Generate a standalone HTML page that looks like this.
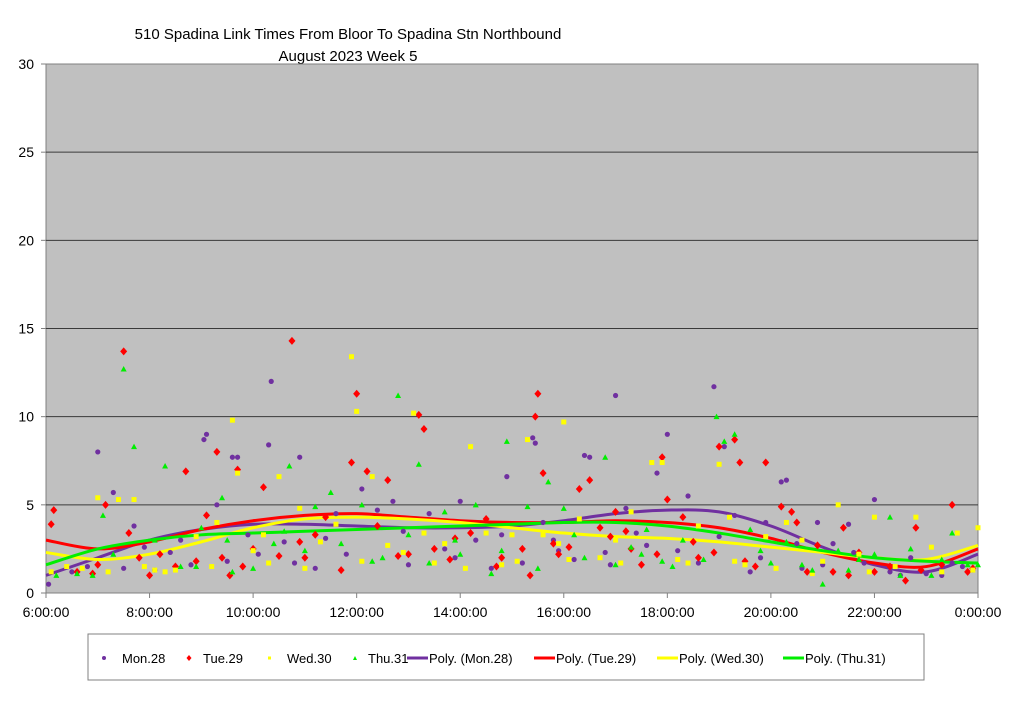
<!DOCTYPE html>
<html><head><meta charset="utf-8">
<style>
body{margin:0;background:#fff;width:1024px;height:701px;overflow:hidden;font-family:"Liberation Sans",sans-serif;}
svg text{font-family:"Liberation Sans",sans-serif;}
</style></head>
<body>
<svg id="chart" width="1024" height="701">
  <text x="348" y="39" text-anchor="middle" font-size="15">510 Spadina Link Times From Bloor To Spadina Stn Northbound</text>
  <text x="348" y="61" text-anchor="middle" font-size="15">August 2023  Week 5</text>
  <rect x="46" y="64" width="932" height="529" fill="#c0c0c0" stroke="#808080"/>
  <g id="grid"></g><g id="axes"></g><g id="trends"></g><g id="pts"></g>
  <g>
    <rect x="88" y="634" width="836" height="46" fill="#fff" stroke="#808080"/>
    <g font-size="13">
      <circle cx="104" cy="658" r="2" fill="#7030a0"/>
      <text x="122" y="663">Mon.28</text>
      <path d="M189 655 L191.5 658 L189 661 L186.5 658Z" fill="#ff0000"/>
      <text x="203" y="663">Tue.29</text>
      <rect x="268" y="656.5" width="3" height="3" fill="#ffff00"/>
      <text x="287" y="663">Wed.30</text>
      <path d="M355 656 L357 660 L353 660Z" fill="#00ee00"/>
      <text x="368" y="663">Thu.31</text>
      <line x1="407" y1="658" x2="428" y2="658" stroke="#7030a0" stroke-width="3"/>
      <text x="429" y="663">Poly. (Mon.28)</text>
      <line x1="534" y1="658" x2="555" y2="658" stroke="#ff0000" stroke-width="3"/>
      <text x="556" y="663">Poly. (Tue.29)</text>
      <line x1="657" y1="658" x2="678" y2="658" stroke="#ffff00" stroke-width="3"/>
      <text x="679" y="663">Poly. (Wed.30)</text>
      <line x1="783" y1="658" x2="804" y2="658" stroke="#00ee00" stroke-width="3"/>
      <text x="805" y="663">Poly. (Thu.31)</text>
    </g>
  </g>
</svg>
<script>
const yTicks=[0,5,10,15,20,25,30];
const xTickLabels=["6:00:00","8:00:00","10:00:00","12:00:00","14:00:00","16:00:00","18:00:00","20:00:00","22:00:00","0:00:00"];
const xTickHours=[6,8,10,12,14,16,18,20,22,24];
const trendHours=[6,7,8,9,10,11,12,13,14,15,16,17,18,19,20,21,22,23,24];
const trendMon=[1.0,2.0,3.0,3.6,3.9,3.9,3.8,3.7,3.7,3.8,4.1,4.5,4.7,4.6,3.8,2.6,1.6,1.2,2.2];
const trendTue=[3.0,2.5,2.9,3.6,4.1,4.4,4.5,4.3,4.1,4.0,4.0,4.1,4.0,3.7,3.1,2.3,1.7,1.5,2.5];
const trendWed=[2.3,1.9,2.2,2.9,3.7,4.2,4.3,4.2,4.0,3.7,3.4,3.2,3.1,2.9,2.6,2.3,2.0,1.9,2.7];
const trendThu=[1.6,2.5,3.0,3.3,3.4,3.5,3.6,3.7,3.8,3.9,4.0,4.0,3.8,3.4,2.9,2.4,2.0,1.8,1.7];
const ptsMon=[[6.05,0.5],[6.5,1.2],[7.0,8.0],[7.3,5.7],[7.5,1.4],[7.7,3.8],[8.1,1.3],[8.4,2.3],[8.8,1.6],[9.05,8.7],[9.1,9.0],[9.3,5.0],[9.5,1.8],[9.6,7.7],[9.7,7.7],[10.1,2.2],[10.3,8.4],[10.35,12.0],[10.6,2.9],[10.9,7.7],[11.2,1.4],[11.6,4.5],[11.8,2.2],[12.1,5.9],[12.4,4.7],[12.7,5.2],[13.0,1.6],[13.4,4.5],[13.7,2.5],[14.0,5.2],[14.3,3.0],[14.6,1.4],[14.9,6.6],[15.2,1.7],[15.4,8.8],[15.45,8.5],[15.6,4.0],[15.9,2.4],[16.2,1.9],[16.4,7.8],[16.5,7.7],[16.8,2.3],[17.0,11.2],[17.2,4.8],[17.6,2.7],[17.8,6.8],[18.0,9.0],[18.4,5.5],[18.6,1.7],[18.9,11.7],[19.1,8.3],[19.3,4.4],[19.6,1.2],[19.9,4.0],[20.2,6.3],[20.3,6.4],[20.6,1.4],[20.9,4.0],[21.2,2.8],[21.5,3.9],[21.8,1.7],[22.0,5.3],[22.3,1.2],[22.7,2.0],[23.0,1.1],[23.3,1.0],[23.7,1.5],[23.9,1.3],
[6.8,1.5],[7.9,2.6],[8.6,3.0],[9.9,3.3],[10.8,1.7],[11.4,3.1],[12.9,3.5],[13.9,2.0],[14.8,3.3],[15.8,3.0],[16.9,1.6],[17.4,3.4],[18.2,2.4],[19.0,3.2],[19.8,2.0],[20.5,2.8],[21.0,1.6],[21.6,2.3],[22.5,1.0],[23.5,1.7]];
const ptsTue=[[6.1,3.9],[6.15,4.7],[6.6,1.2],[7.0,1.6],[7.15,5.0],[7.5,13.7],[7.6,3.4],[8.0,1.0],[8.2,2.2],[8.5,1.5],[8.7,6.9],[9.1,4.4],[9.3,8.0],[9.4,2.0],[9.55,1.0],[9.7,7.0],[9.8,1.5],[10.2,6.0],[10.5,2.1],[10.75,14.3],[11.0,2.0],[11.4,4.3],[11.7,1.3],[11.9,7.4],[12.0,11.3],[12.2,6.9],[12.4,3.8],[12.6,6.4],[13.0,2.2],[13.2,10.1],[13.3,9.3],[13.5,2.5],[13.8,1.9],[14.2,3.4],[14.5,4.2],[14.8,2.0],[15.2,2.5],[15.35,1.0],[15.45,10.0],[15.5,11.3],[15.6,6.8],[15.8,2.8],[16.1,2.6],[16.3,5.9],[16.5,6.4],[16.7,3.7],[17.0,4.6],[17.2,3.5],[17.5,1.6],[17.8,2.2],[17.9,7.7],[18.0,5.3],[18.3,4.3],[18.6,2.0],[18.9,2.3],[19.0,8.3],[19.3,8.7],[19.4,7.4],[19.7,1.5],[19.9,7.4],[20.2,4.9],[20.4,4.6],[20.5,4.0],[20.9,2.7],[21.2,1.2],[21.4,3.7],[21.7,2.3],[22.0,1.2],[22.3,1.5],[22.6,0.7],[22.8,3.7],[23.5,5.0],[23.8,1.2],[23.9,1.4],
[6.9,1.1],[7.8,2.0],[8.9,1.8],[10.0,2.5],[10.9,2.9],[11.2,3.3],[12.8,2.1],[13.9,3.1],[14.7,1.5],[15.9,2.2],[16.9,3.2],[17.3,2.5],[18.5,2.9],[19.5,1.8],[20.7,1.2],[21.5,1.0],[22.9,1.3],[23.3,1.6]];
const ptsWed=[[6.1,1.2],[6.4,1.5],[7.0,5.4],[7.2,1.2],[7.4,5.3],[7.7,5.3],[8.1,1.3],[8.5,1.3],[8.9,3.2],[9.3,4.0],[9.6,9.8],[9.7,6.8],[10.0,2.4],[10.2,3.3],[10.5,6.6],[10.9,4.8],[11.3,2.9],[11.6,3.9],[11.9,13.4],[12.0,10.3],[12.3,6.6],[12.6,2.7],[12.9,2.3],[13.1,10.2],[13.3,3.4],[13.7,2.8],[14.2,8.3],[14.5,3.4],[14.8,1.6],[15.0,3.3],[15.3,8.7],[15.6,3.3],[15.9,2.8],[16.0,9.7],[16.3,4.2],[16.7,2.0],[17.0,3.0],[17.3,4.6],[17.7,7.4],[17.9,7.4],[18.2,1.9],[18.6,3.8],[19.0,7.3],[19.2,4.3],[19.5,1.6],[19.9,3.2],[20.3,4.0],[20.6,3.0],[21.0,1.8],[21.3,5.0],[21.7,2.2],[22.0,4.3],[22.4,1.5],[22.8,4.3],[23.1,2.6],[23.6,3.4],[24.0,3.7],[23.9,1.3],
[6.7,1.4],[7.9,1.5],[8.3,1.2],[9.2,1.5],[10.3,1.7],[11.0,1.4],[12.1,1.8],[13.5,1.7],[14.1,1.4],[15.1,1.8],[16.1,1.9],[17.1,1.7],[18.4,1.7],[19.3,1.8],[20.1,1.4],[20.8,1.1],[21.9,1.2],[23.3,1.2]];
const ptsThu=[[6.2,1.0],[6.6,1.1],[7.1,4.4],[7.5,12.7],[7.7,8.3],[8.3,7.2],[8.6,1.5],[9.0,3.7],[9.4,5.4],[9.6,1.2],[10.0,1.4],[10.4,2.8],[10.7,7.2],[11.2,4.9],[11.5,5.7],[11.7,2.8],[12.1,5.0],[12.5,2.0],[12.8,11.2],[13.2,7.3],[13.4,1.7],[13.7,4.6],[14.0,2.2],[14.3,5.0],[14.6,1.1],[14.9,8.6],[15.3,4.9],[15.7,6.3],[16.0,4.8],[16.4,2.0],[16.8,7.7],[17.0,1.6],[17.3,2.6],[17.6,3.6],[17.9,1.8],[18.3,3.0],[18.7,1.9],[18.95,10.0],[19.1,8.6],[19.3,9.0],[19.6,3.6],[20.0,1.7],[20.3,2.9],[20.6,1.6],[21.0,0.5],[21.3,2.4],[21.7,1.9],[22.0,2.2],[22.3,4.3],[22.7,2.5],[23.1,1.0],[23.5,3.4],[23.8,1.6],[24.0,1.6],
[6.9,1.0],[7.3,2.2],[8.1,3.0],[8.9,1.5],[9.5,3.0],[10.6,3.5],[11.0,2.4],[12.3,1.8],[13.0,3.3],[13.9,3.0],[14.8,2.4],[15.5,1.4],[16.2,3.3],[17.5,2.2],[18.1,1.5],[19.8,2.4],[20.8,1.3],[21.5,1.3],[22.5,1.0],[23.3,1.9]];

const NS="http://www.w3.org/2000/svg";
const L=46,R=978,T=64,B=593;
function xs(h){return L+(h-6)/18*(R-L);}
function ys(v){return B-v/30*(B-T);}
function mk(tag,attrs,parent){const e=document.createElementNS(NS,tag);for(const k in attrs)e.setAttribute(k,attrs[k]);document.getElementById(parent).appendChild(e);return e;}

yTicks.forEach(v=>{
  if(v>0&&v<30){const g=mk('line',{x1:L,x2:R,y1:ys(v),y2:ys(v),stroke:'#3a3a3a','stroke-width':1},'grid');
    
    }
  const tk=mk('line',{x1:L-5,x2:L,y1:ys(v),y2:ys(v),stroke:'#808080'},'axes');
  
  
  const t=mk('text',{x:L-12,y:ys(v)+5,'text-anchor':'end','font-size':14},'axes');t.textContent=v;
  
  
});
xTickHours.forEach((h,i)=>{
  const tk=mk('line',{x1:xs(h),x2:xs(h),y1:B,y2:B+5,stroke:'#808080'},'axes');
  
  
  const t=mk('text',{x:xs(h),y:B+24,'text-anchor':'middle','font-size':14},'axes');t.textContent=xTickLabels[i];
  
  
});
function smooth(hs,vs){
  const p=hs.map((h,i)=>[xs(h),ys(vs[i])]);let d='M'+p[0][0]+' '+p[0][1];
  for(let i=0;i<p.length-1;i++){const p0=p[Math.max(0,i-1)],p1=p[i],p2=p[i+1],p3=p[Math.min(p.length-1,i+2)];
    d+=' C'+(p1[0]+(p2[0]-p0[0])/6)+' '+(p1[1]+(p2[1]-p0[1])/6)+' '+(p2[0]-(p3[0]-p1[0])/6)+' '+(p2[1]-(p3[1]-p1[1])/6)+' '+p2[0]+' '+p2[1];}
  return d;}
function drawPts(arr,color,shape,name){
  arr.forEach((p,i)=>{const x=xs(p[0]),y=ys(p[1]);let e;
    if(shape==='c')e=mk('circle',{cx:x,cy:y,r:2.6,fill:color},'pts');
    else if(shape==='d')e=mk('path',{d:`M${x} ${y-4}L${x+3.5} ${y}L${x} ${y+4}L${x-3.5} ${y}Z`,fill:color},'pts');
    else if(shape==='s')e=mk('rect',{x:x-2.5,y:y-2.5,width:5,height:5,fill:color},'pts');
    else e=mk('path',{d:`M${x} ${y-3}L${x+3} ${y+2.5}L${x-3} ${y+2.5}Z`,fill:color},'pts');
    
    
  });}
drawPts(ptsMon,'#7030a0','c','mon');
drawPts(ptsTue,'#ff0000','d','tue');
drawPts(ptsWed,'#ffff00','s','wed');
drawPts(ptsThu,'#00ee00','t','thu');
[[trendMon,'#7030a0','mon'],[trendTue,'#ff0000','tue'],[trendWed,'#ffff00','wed'],[trendThu,'#00ee00','thu']].forEach(s=>{
  const e=mk('path',{d:smooth(trendHours,s[0]),fill:'none',stroke:s[1],'stroke-width':3},'trends');
  
  
});
</script>
</body></html>
